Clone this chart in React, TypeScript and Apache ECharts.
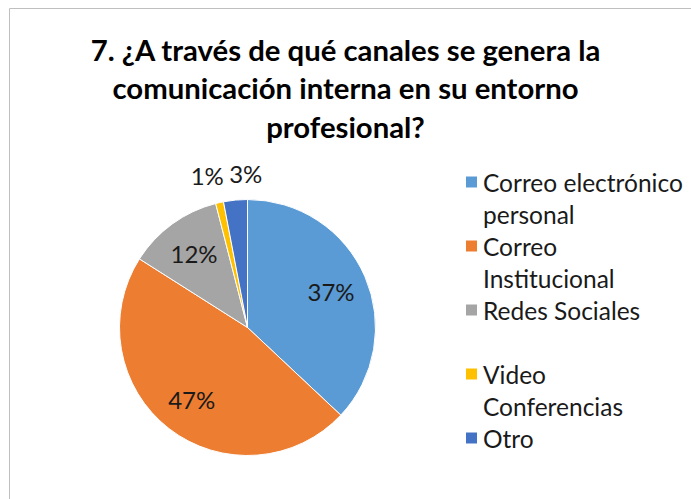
import React, { useEffect, useRef } from "react";
import * as echarts from "echarts";

const titleLines = [
  "7. ¿A través de qué canales se genera la",
  "comunicación interna en su entorno",
  "profesional?",
];
const categories = [
  "Correo electrónico personal",
  "Correo Institucional",
  "Redes Sociales",
  "Video Conferencias",
  "Otro",
];
const legendLabels = [
  "Correo electrónico\npersonal",
  "Correo\nInstitucional",
  "Redes Sociales\n ",
  "Video\nConferencias",
  "Otro\n ",
];
const values = [37, 47, 12, 1, 3];
const colors = ["#5B9BD5", "#ED7D31", "#A5A5A5", "#FFC000", "#4472C4"];
const outsideLabel = [false, false, false, true, true];
const labelOffsets = [[0, 0], [0, 0], [0, 0], [-6, 1], [13, 2]];

const FONT = "Lato, 'Open Sans', sans-serif";

export default function App() {
  const ref = useRef<HTMLDivElement>(null);
  useEffect(() => {
    if (!ref.current) return;
    const chart = echarts.init(ref.current, undefined, { renderer: "svg" });
    const center = [247.5, 327.5];
    const R = 128;
    const labelStyle = {
      fontFamily: FONT,
      fontSize: 24,
      color: "#1a1a1a",
    };
    chart.setOption({
      animation: false,
      backgroundColor: "#fff",
      title: {
        text: titleLines.join("\n"),
        left: "center",
        top: 30,
        padding: 0,
        textStyle: {
          fontFamily: FONT,
          fontWeight: "bold",
          fontSize: 29.3,
          lineHeight: 38.5,
          color: "#000",
        },
      },
      graphic: [
        {
          type: "rect",
          shape: { x: 9.5, y: 8.5, width: 900, height: 700 },
          style: { fill: "none", stroke: "#bfbfbf", lineWidth: 1 },
          silent: true,
          z: -10,
        },
      ],
      legend: {
        orient: "vertical",
        left: 464,
        top: 134,
        padding: 0,
        itemGap: -32,
        itemWidth: 13,
        itemHeight: 13,
        icon: "rect",
        data: categories,
        formatter: (name: string) => " \n" + legendLabels[categories.indexOf(name)],
        textStyle: {
          fontFamily: FONT,
          fontSize: 24.5,
          lineHeight: 32,
          color: "#1a1a1a",
        },
        selectedMode: false,
      },
      series: [
        {
          type: "pie",
          name: "main",
          center,
          radius: [0, R],
          startAngle: 90,
          clockwise: true,
          silent: true,
          label: { show: false },
          labelLine: { show: false },
          itemStyle: { borderColor: "#fff", borderWidth: 1 },
          data: categories.map((c, i) => ({
            name: c,
            value: values[i],
            itemStyle: { color: colors[i] },
          })),
        },
        {
          type: "pie",
          name: "inner-labels",
          center,
          radius: [48, R],
          startAngle: 90,
          clockwise: true,
          silent: true,
          itemStyle: { color: "transparent" },
          labelLine: { show: false },
          label: { ...labelStyle, position: "inside", formatter: "{c}%" },
          data: categories.map((c, i) => ({
            name: c,
            value: values[i],
            label: { show: !outsideLabel[i] },
          })),
        },
        {
          type: "pie",
          name: "outer-labels",
          center,
          radius: [R, 180],
          startAngle: 90,
          clockwise: true,
          silent: true,
          itemStyle: { color: "transparent" },
          labelLine: { show: false },
          label: { ...labelStyle, position: "inside", formatter: "{c}%" },
          data: categories.map((c, i) => ({
            name: c,
            value: values[i],
            label: { show: outsideLabel[i], offset: labelOffsets[i] },
          })),
        },
      ],
    });
    return () => chart.dispose();
  }, []);
  return (
    <div
      ref={ref}
      style={{ position: "fixed", left: 0, top: 0, width: 691, height: 499 }}
    />
  );
}
